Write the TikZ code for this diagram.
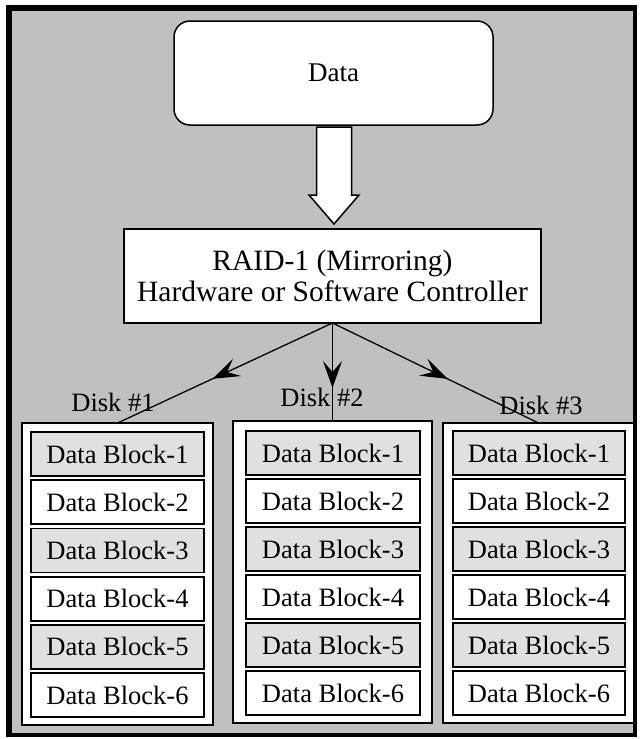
\documentclass[tikz,border=0pt]{standalone}
\usepackage{fontspec}
\setmainfont{Liberation Serif}
\usetikzlibrary{arrows.meta,decorations.markings}
\definecolor{bggray}{HTML}{C0C0C0}
\definecolor{blkgray}{HTML}{E0E0E0}
\begin{document}
\begin{tikzpicture}[x=1pt,y=-1pt,
  box/.style={draw=black, line width=1.5pt, fill=white, inner sep=0pt, outer sep=0pt},
  diskbox/.style={draw=black, line width=1.3pt, fill=white, inner sep=0pt, outer sep=0pt},
  blockg/.style={draw=black, line width=1.8pt, fill=blkgray, inner sep=0pt, outer sep=0pt,
    minimum height=44pt, font=\fontsize{26.5}{30}\selectfont},
  blockw/.style={blockg, fill=white},
  disklabel/.style={inner sep=0pt, font=\fontsize{26.5}{30}\selectfont},
  conn/.style={line width=1.3pt},
  midarrow/.style={postaction={decorate}, decoration={markings,
    mark=at position #1 with {\arrow{Stealth[length=27pt,width=19pt,inset=11pt]}}}}
]
\useasboundingbox (0,0) rectangle (641,739);
\fill[white] (0,0) rectangle (641,739);
\fill[black] (6,5) rectangle (636.5,736.5);
\fill[bggray] (12,11) rectangle (633,733);

% top boxes
\node[box, rounded corners=16pt, minimum width=319pt, minimum height=104pt,
  font=\fontsize{27}{30}\selectfont] (data) at (333.5,73) {Data};
\node[box, minimum width=417pt, minimum height=94pt, align=center,
  font=\fontsize{29.5}{30.5}\selectfont] (raid) at (332.5,276)
  {RAID-1 (Mirroring)\\Hardware or Software Controller};

% hollow arrow
\draw[line width=1.5pt, fill=white, line join=miter]
  (316.5,127) -- (351.5,127) -- (351.5,195) -- (359,195) -- (334,224)
  -- (309,195) -- (316.5,195) -- cycle;

% disks
\node[diskbox, minimum width=191pt, minimum height=302pt] (d1) at (117.5,574) {};
\node[diskbox, minimum width=199pt, minimum height=302pt] (d2) at (332.5,572) {};
\node[diskbox, minimum width=191pt, minimum height=300pt] (d3) at (538.5,573) {};

% blocks
\foreach \i/\s in {1/blockg,2/blockw,3/blockg,4/blockw,5/blockg,6/blockw}{
  \node[\s, minimum width=173pt] (a\i) at (117.5,{454+48.2*(\i-1)}) {Data Block-\i};
  \node[\s, minimum width=174pt] (b\i) at (333,{453+48*(\i-1)}) {Data Block-\i};
  \node[\s, minimum width=172pt] (c\i) at (539,{453+48*(\i-1)}) {Data Block-\i};
}

% labels
\node[disklabel] (l1) at (113,402) {Disk \#1};
\node[disklabel] (l2) at (322,397) {Disk \#2};
\node[disklabel] (l3) at (541,405) {Disk \#3};

% connectors
\draw[conn, midarrow=0.558] (raid.south) -- (d1.north);
\draw[conn, midarrow=0.663] (raid.south) -- (d2.north);
\draw[conn, midarrow=0.559] (raid.south) -- (d3.north);
\end{tikzpicture}
\end{document}
